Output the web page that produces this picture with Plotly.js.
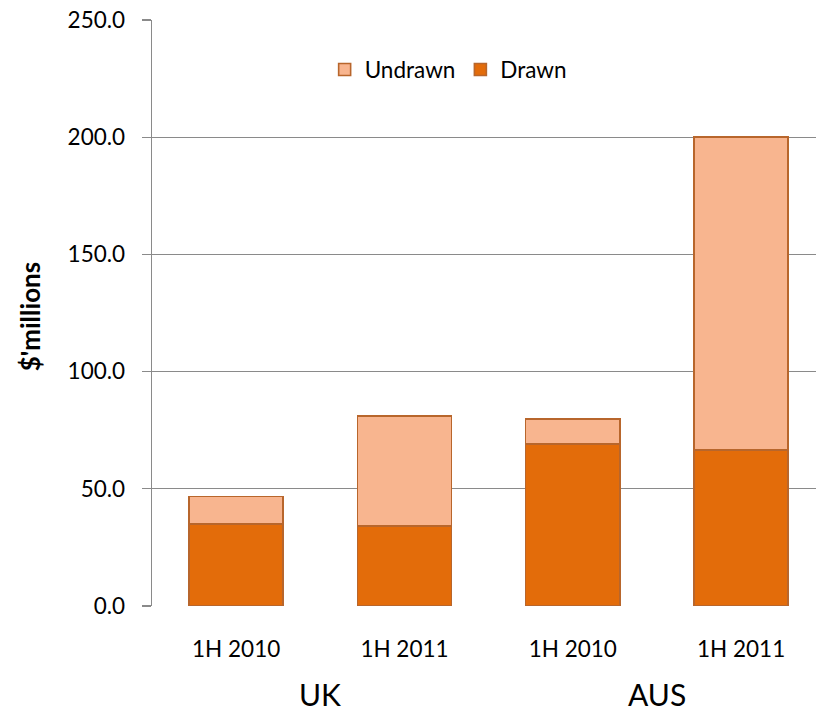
<!DOCTYPE html>
<html>
<head>
<meta charset="utf-8">
<script src="https://cdn.plot.ly/plotly-3.0.1.min.js"></script>
<style>html,body{margin:0;padding:0;background:#fff;}#chart{width:816px;height:714px;}</style>
</head>
<body>
<div id="chart"></div>
<script>
const periods = ["1H 2010", "1H 2011", "1H 2010", "1H 2011"];
const regions = ["UK", "UK", "AUS", "AUS"];
const drawn = [34.9, 34.2, 69.2, 66.6];
const undrawn = [11.8, 46.8, 10.7, 133.4];
const groupLabels = ["UK", "AUS"];
const yTicks = [0, 50, 100, 150, 200, 250];
const yTitle = "$'millions";

const idx = periods.map((p, i) => i);
// centre of each region group, from the bar indices belonging to it
const groupCenters = groupLabels.map(g => {
  const ii = idx.filter(i => regions[i] === g);
  return ii.reduce((a, b) => a + b, 0) / ii.length;
});
const font = "Lato, 'Open Sans', sans-serif";
const edge = {color: "#B8662C", width: 1.6};

const traces = [
  {type: "bar", name: "Drawn", x: idx, y: drawn,
   marker: {color: "#E36C0A", line: edge}, hoverinfo: "y"},
  {type: "bar", name: "Undrawn", x: idx, y: undrawn,
   marker: {color: "#F8B58F", line: edge}, hoverinfo: "y"}
];

const annotations = groupLabels.map((g, i) => ({
  text: g, x: groupCenters[i], xref: "x", y: -0.151, yref: "paper",
  showarrow: false, xanchor: "center", yanchor: "middle",
  font: {family: font, size: 30, color: "#000"}
}));
annotations.push({
  text: "<b>" + yTitle + "</b>", x: -0.184, xref: "paper", y: 0.494, yref: "paper",
  textangle: -90, showarrow: false, xanchor: "center", yanchor: "middle",
  font: {family: font, size: 26, color: "#000"}
});

const layout = {
  width: 816, height: 714,
  margin: {l: 152, r: 0, t: 20, b: 108},
  barmode: "stack",
  bargap: 0.44,
  paper_bgcolor: "#fff", plot_bgcolor: "#fff",
  font: {family: font, size: 22.5, color: "#000"},
  showlegend: true,
  legend: {orientation: "h", traceorder: "reversed", x: 0.26, y: 0.915,
           xanchor: "left", yanchor: "middle", font: {family: font, size: 22.5},
           itemwidth: 30, bgcolor: "rgba(0,0,0,0)"},
  xaxis: {
    range: [-0.5, 3.445], tickmode: "array", tickvals: idx, ticktext: periods,
    showgrid: false, zeroline: false, showline: false, ticks: "",
    tickfont: {family: font, size: 22.5}, ticklabelstandoff: 27, fixedrange: true
  },
  yaxis: {
    range: [0, 250], tickmode: "array", tickvals: yTicks,
    ticktext: yTicks.map(v => v.toFixed(1)),
    showgrid: true, gridcolor: "#8A8A8A", gridwidth: 1.4,
    zeroline: false, showline: true, linecolor: "#8A8A8A", linewidth: 1.4,
    ticks: "outside", ticklen: 9, tickcolor: "#8A8A8A", tickwidth: 1.4,
    tickfont: {family: font, size: 22.5}, ticklabelstandoff: 12,
    fixedrange: true
  },
  annotations: annotations
};

Plotly.newPlot("chart", traces, layout, {displayModeBar: false, staticPlot: true});
</script>
</body>
</html>
